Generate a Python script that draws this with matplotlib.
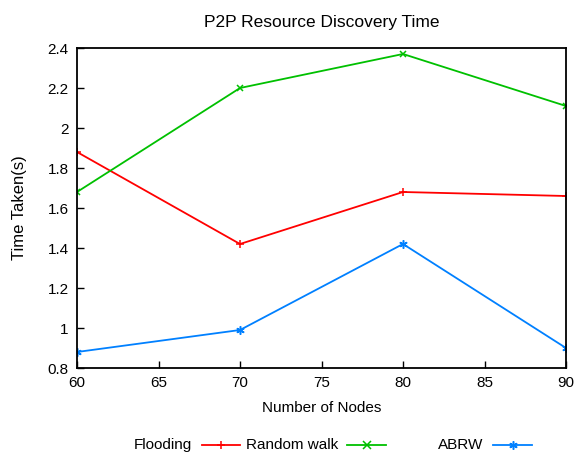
import matplotlib
matplotlib.use("Agg")
import matplotlib.pyplot as plt

plt.rcParams['font.family'] = ['Liberation Sans', 'DejaVu Sans']

nodes = [60, 70, 80, 90]
flooding = [1.88, 1.42, 1.68, 1.66]
random_walk = [1.68, 2.20, 2.37, 2.11]
abrw = [0.88, 0.99, 1.42, 0.90]
xticks = [60, 65, 70, 75, 80, 85, 90]
yticks = [0.8, 1.0, 1.2, 1.4, 1.6, 1.8, 2.0, 2.2, 2.4]
ytick_labels = ['0.8', '1', '1.2', '1.4', '1.6', '1.8', '2', '2.2', '2.4']

fig = plt.figure(figsize=(5.76, 4.57), dpi=100)
ax = fig.add_axes([77/576, 1-368/457, (566-77)/576, (368-48)/457])

ax.plot(nodes, flooding, color='#ff0000', marker='+', ms=6, mew=1.1, lw=1.3, label='Flooding')
ax.plot(nodes, random_walk, color='#00c000', marker='x', ms=5, mew=1.1, lw=1.3, label='Random walk')
ax.plot(nodes, abrw, color='#0080ff', marker=(6, 2, 0), ms=6, mew=1.1, lw=1.3, label='ABRW')

ax.set_xlim(60, 90)
ax.set_ylim(0.8, 2.4)
ax.set_xticks(xticks)
ax.set_yticks(yticks)
ax.set_yticklabels(ytick_labels)
ax.tick_params(direction='in', length=5, width=1, labelsize=11, pad=6)
for s in ax.spines.values():
    s.set_linewidth(1.3)

ax.set_xlabel('Number of Nodes', fontsize=11, labelpad=8)
ax.set_ylabel('Time Taken(s)', fontsize=12, labelpad=15)
ax.set_title('P2P Resource Discovery Time', fontsize=12.5, pad=15)

# gnuplot-style legend: label then sample line
leg_y = 1 - 445/457
entries = [('Flooding', 192, 202, 240, '#ff0000', '+'),
           ('Random walk', 338, 347, 386, '#00c000', 'x'),
           ('ABRW', 483, 493, 532, '#0080ff', (6, 2, 0))]
for lab, tx, x0, x1, col, mk in entries:
    fig.text(tx/576, leg_y, lab, ha='right', va='center', fontsize=11)
    fig.add_artist(plt.Line2D([x0/576, x1/576], [leg_y, leg_y], color=col, lw=1.3,
                              transform=fig.transFigure))
    fig.add_artist(plt.Line2D([(x0+x1)/2/576], [leg_y], color=col, marker=mk, ms=6, mew=1.1,
                              transform=fig.transFigure))

fig.savefig('out.png', dpi=100)
